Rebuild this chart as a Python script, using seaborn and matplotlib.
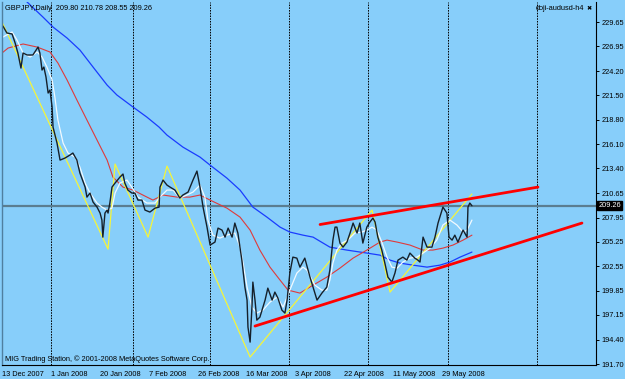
import matplotlib
matplotlib.use("Agg")
import matplotlib.pyplot as plt
import matplotlib.transforms as mtransforms
import seaborn as sns

# GBPJPY daily, x = bar number (bar 0 = 13 Dec 2007)
close_bar = [0.3, 1.6, 3.3, 4.3, 5.2, 6.2, 6.9, 8.2, 10.1, 11.8, 12.4, 13.1, 13.7, 14.4, 15.1, 15.7,
             16.4, 16.7, 18.0, 19.0, 20.6, 22.2, 23.2, 24.5, 25.5, 27.2, 27.8, 28.8, 29.8, 31.1, 32.1,
             32.7, 33.0, 33.7, 34.4, 34.7, 35.3, 36.0, 37.0, 38.6, 39.6, 40.2, 41.2, 42.5, 43.5, 44.5,
             45.8, 46.8, 48.4, 50.1, 51.4, 51.7, 52.7, 54.0, 55.0, 56.6, 58.2, 59.2, 60.9, 62.5, 63.8,
             64.8, 65.8, 67.1, 68.1, 69.7, 70.7, 72.0, 73.0, 74.0, 75.3, 76.2, 77.2, 78.5, 79.5, 80.2,
             80.5, 81.2, 81.8, 82.1, 82.8, 83.4, 84.4, 86.1, 87.0, 88.4, 89.3, 90.3, 91.6, 92.6, 93.3,
             94.2, 95.2, 96.5, 97.5, 99.1, 100.8, 101.8, 103.1, 104.7, 106.3, 107.3, 108.3, 109.0, 109.6,
             110.6, 111.6, 112.9, 113.9, 114.9, 116.2, 117.1, 118.1, 119.4, 120.4, 121.4, 122.1, 123.0,
             124.3, 125.3, 126.3, 127.6, 128.6, 129.6, 131.2, 132.5, 133.5, 135.1, 136.1, 136.8, 137.8,
             139.1, 140.7, 141.7, 142.7, 144.0, 144.3, 145.6, 146.3, 147.3, 148.2, 149.2, 150.9, 152.2,
             152.5, 153.1, 153.8]
close_px = [229.20, 228.43, 228.32, 227.32, 226.21, 224.54, 226.21, 225.99, 225.99, 226.87, 226.21,
            224.32, 224.65, 223.54, 221.77, 222.10, 220.21, 217.99, 216.22, 214.33, 214.55, 214.88,
            215.11, 214.33, 212.89, 211.33, 210.22, 210.67, 209.67, 209.11, 208.45, 207.67, 205.78,
            208.45, 208.78, 208.45, 209.56, 211.33, 211.78, 212.44, 212.78, 211.78, 211.00, 210.67,
            210.67, 209.89, 209.89, 208.78, 208.56, 209.00, 209.11, 211.33, 212.11, 211.55, 211.33,
            211.00, 210.11, 210.45, 210.78, 212.11, 213.11, 211.33, 209.11, 206.89, 204.90, 205.23,
            206.78, 206.56, 205.78, 206.78, 205.78, 207.34, 206.23, 203.23, 200.23, 198.79, 195.79,
            194.13, 198.01, 200.79, 198.79, 196.57, 196.90, 198.79, 200.12, 198.79, 199.68, 199.01,
            197.68, 197.35, 198.79, 201.79, 203.56, 203.45, 202.45, 203.45, 201.34, 200.23, 198.79,
            199.57, 200.23, 202.12, 205.45, 206.89, 206.89, 205.12, 204.67, 205.23, 206.23, 207.34,
            206.23, 207.34, 205.12, 206.89, 207.45, 207.89, 207.45, 205.78, 204.34, 202.90, 201.34,
            200.79, 201.79, 203.23, 203.56, 203.23, 204.01, 203.45, 203.23, 203.01, 205.78, 204.67,
            204.67, 205.78, 207.34, 208.78, 209.11, 208.45, 205.78, 205.45, 206.00, 205.23, 206.56,
            205.78, 209.11, 209.56, 209.26]

fast_bar = [0.3, 3.3, 4.9, 6.9, 9.2, 11.5, 13.1, 14.7, 16.4, 17.3, 18.3, 20.0, 21.6, 23.9, 25.5, 27.2,
            28.8, 31.1, 32.7, 34.4, 36.0, 37.0, 38.6, 40.9, 42.5, 44.5, 47.4, 50.1, 51.7, 54.0, 56.0,
            58.2, 60.5, 62.5, 64.8, 66.4, 67.4, 69.0, 71.3, 73.6, 76.2, 77.9, 78.9, 80.2, 81.8, 83.4,
            85.4, 87.7, 90.0, 92.0, 94.2, 96.5, 98.5, 99.8, 102.4, 104.7, 106.3, 107.3, 108.3, 109.6,
            111.3, 113.2, 115.5, 117.8, 119.4, 121.1, 122.7, 124.3, 126.0, 127.6, 129.3, 131.2, 133.5,
            135.8, 137.8, 140.1, 142.3, 144.3, 146.6, 148.9, 150.9, 152.2, 153.8]
fast_px = [227.98, 228.54, 227.65, 226.21, 225.76, 226.32, 225.76, 224.65, 223.21, 221.32, 218.77,
           216.22, 215.11, 214.66, 213.55, 211.78, 210.67, 209.56, 209.11, 208.78, 209.00, 210.67,
           211.78, 212.11, 211.33, 210.22, 209.56, 209.56, 210.22, 211.00, 211.00, 210.11, 210.45,
           210.78, 211.55, 210.22, 207.67, 206.00, 205.67, 206.00, 206.23, 204.67, 202.90, 200.23,
           198.01, 197.35, 197.68, 198.57, 199.12, 198.01, 199.90, 201.79, 202.45, 202.12, 200.45,
           199.90, 199.90, 201.01, 202.90, 204.34, 205.12, 205.45, 206.23, 206.34, 206.56, 206.89,
           206.56, 205.23, 203.56, 202.45, 202.34, 203.01, 203.45, 203.56, 204.01, 204.56, 205.45,
           207.12, 207.67, 207.12, 206.34, 206.56, 207.67]

red_bar = [0.0, 2.0, 6.9, 11.5, 15.7, 18.3, 21.3, 24.5, 27.8, 31.1, 34.4, 36.3, 39.6, 42.9, 46.1, 49.4,
           52.7, 57.3, 61.5, 64.8, 68.1, 73.6, 77.9, 81.2, 84.4, 87.7, 91.0, 93.6, 97.5, 101.8, 106.3,
           110.6, 114.9, 119.4, 123.7, 126.0, 129.3, 133.5, 137.8, 141.0, 144.3, 147.6, 150.9, 153.8]
red_px = [226.21, 226.76, 227.21, 226.87, 226.32, 225.10, 223.21, 221.00, 218.77, 216.55, 214.33,
          212.44, 211.33, 211.00, 210.45, 209.89, 210.45, 210.22, 210.22, 210.45, 209.89, 209.00,
          208.00, 206.56, 204.34, 202.45, 201.01, 199.90, 199.57, 200.45, 201.34, 202.34, 203.45,
          204.34, 205.23, 205.45, 205.23, 204.90, 204.34, 204.34, 204.56, 204.90, 205.45, 206.00]

blue_bar = [6.0, 8.2, 13.4, 16.7, 21.3, 25.5, 29.8, 34.4, 37.6, 42.9, 47.4, 51.4, 54.0, 59.2, 64.8,
            68.1, 73.6, 77.9, 82.1, 86.7, 91.0, 94.2, 98.5, 101.8, 107.3, 112.9, 119.4, 123.7, 127.0,
            130.2, 134.5, 139.1, 143.3, 146.6, 149.9, 153.8]
blue_px = [232.60, 231.87, 230.20, 229.09, 227.87, 226.54, 224.65, 222.65, 221.55, 220.21, 219.10,
           217.99, 217.10, 215.77, 214.66, 213.77, 212.33, 211.00, 209.11, 208.00, 206.89, 206.34,
           206.00, 205.78, 204.67, 204.34, 204.01, 203.78, 203.23, 202.90, 202.67, 202.45, 202.67,
           203.01, 203.56, 204.12]

zz_bar = [0.0, 34.7, 37.0, 47.8, 54.0, 81.2, 121.1, 127.0, 153.8]
zz_px = [229.65, 204.45, 213.89, 205.78, 213.66, 192.47, 208.78, 199.68, 210.56]

upper_bar = [104.1, 175.4]
upper_px = [207.18, 211.33]
lower_bar = [82.8, 189.8]
lower_px = [195.91, 207.34]

grid_bars = [16.0, 42.9, 68.1, 93.9, 119.8, 145.9, 175.1]
date_bars = [0, 16, 32, 48, 64, 80, 96, 112, 128, 144]
date_labels = ["13 Dec 2007", "1 Jan 2008", "20 Jan 2008", "7 Feb 2008", "26 Feb 2008",
               "16 Mar 2008", "3 Apr 2008", "22 Apr 2008", "11 May 2008", "29 May 2008"]
price_ticks = [229.65, 226.95, 224.20, 221.50, 218.80, 216.10, 213.40, 210.65, 207.95,
               205.25, 202.55, 199.85, 197.15, 194.40, 191.70]
bid = 209.26

bg = "#87CEFA"
sns.set_style("white", {"axes.facecolor": bg, "figure.facecolor": bg})
plt.rcParams["font.family"] = ["Liberation Sans", "DejaVu Sans"]
fs = 5.3

fig = plt.figure(figsize=(6.25, 3.79), dpi=100)
ax = fig.add_axes([2 / 625, 14 / 379, 594 / 625, 363 / 379])

# monthly grid + bid line
for g in grid_bars:
    ax.axvline(g, color="black", lw=0.7, ls=(0, (1.6, 1.2)), zorder=1)
ax.axhline(bid, color="#5a7d90", lw=1.6, zorder=1)

sns.lineplot(x=blue_bar, y=blue_px, sort=False, estimator=None, color="#1a3cff", lw=0.9, ax=ax)
sns.lineplot(x=red_bar, y=red_px, sort=False, estimator=None, color="#e03a3a", lw=0.8, ax=ax)
sns.lineplot(x=zz_bar, y=zz_px, sort=False, estimator=None, color="#f5f53a", lw=0.9, ax=ax)
sns.lineplot(x=fast_bar, y=fast_px, sort=False, estimator=None, color="#f2faff", lw=0.9, ax=ax)
sns.lineplot(x=close_bar, y=close_px, sort=False, estimator=None, color="#15202a", lw=1.0, ax=ax)
sns.lineplot(x=upper_bar, y=upper_px, sort=False, estimator=None, color="#ff0000", lw=2.0, ax=ax)
sns.lineplot(x=lower_bar, y=lower_px, sort=False, estimator=None, color="#ff0000", lw=2.0, ax=ax)

ax.set_xlim(0, 194.4)
ax.set_ylim(191.59, 231.87)
ax.set_xlabel("")
ax.set_ylabel("")

ax.yaxis.tick_right()
ax.set_yticks(price_ticks)
ax.set_yticklabels([f"{p:.2f}" for p in price_ticks], fontsize=fs)
ax.tick_params(axis="y", direction="out", length=2.5, width=0.7, pad=1.5, colors="black")
ax.set_xticks(date_bars)
ax.set_xticklabels(date_labels, fontsize=fs, ha="left")
ax.tick_params(axis="x", direction="out", length=3, width=0.7, pad=1.5, colors="black")

ax.spines["top"].set_visible(False)
ax.spines["left"].set_color("#4f7fa0")
ax.spines["left"].set_linewidth(1.0)
ax.spines["right"].set_color("black")
ax.spines["bottom"].set_color("black")
ax.spines["right"].set_linewidth(0.8)
ax.spines["bottom"].set_linewidth(0.8)

trans = mtransforms.blended_transform_factory(ax.transAxes, ax.transData)
ax.text(1.004, bid, f"{bid:.2f}", transform=trans, fontsize=fs, color="white", va="center",
        ha="left", bbox=dict(fc="black", ec="black", pad=0.8), zorder=5, clip_on=False)

ax.text(0.005, 0.982, "GBPJPY,Daily  209.80 210.78 208.55 209.26", transform=ax.transAxes,
        fontsize=fs, va="center", ha="left", color="black")
ax.text(0.005, 0.016, "MIG Trading Station, \u00a9 2001-2008 MetaQuotes Software Corp.",
        transform=ax.transAxes, fontsize=fs, va="center", ha="left", color="black")
ax.text(0.898, 0.982, "doji-audusd-h4", transform=ax.transAxes, fontsize=fs, va="center",
        ha="left", color="black")
ax.text(0.988, 0.982, "\u2716", transform=ax.transAxes, fontsize=4.5, va="center", ha="center",
        color="black", family=["DejaVu Sans"])

fig.savefig("out.png", dpi=100, facecolor=bg)
